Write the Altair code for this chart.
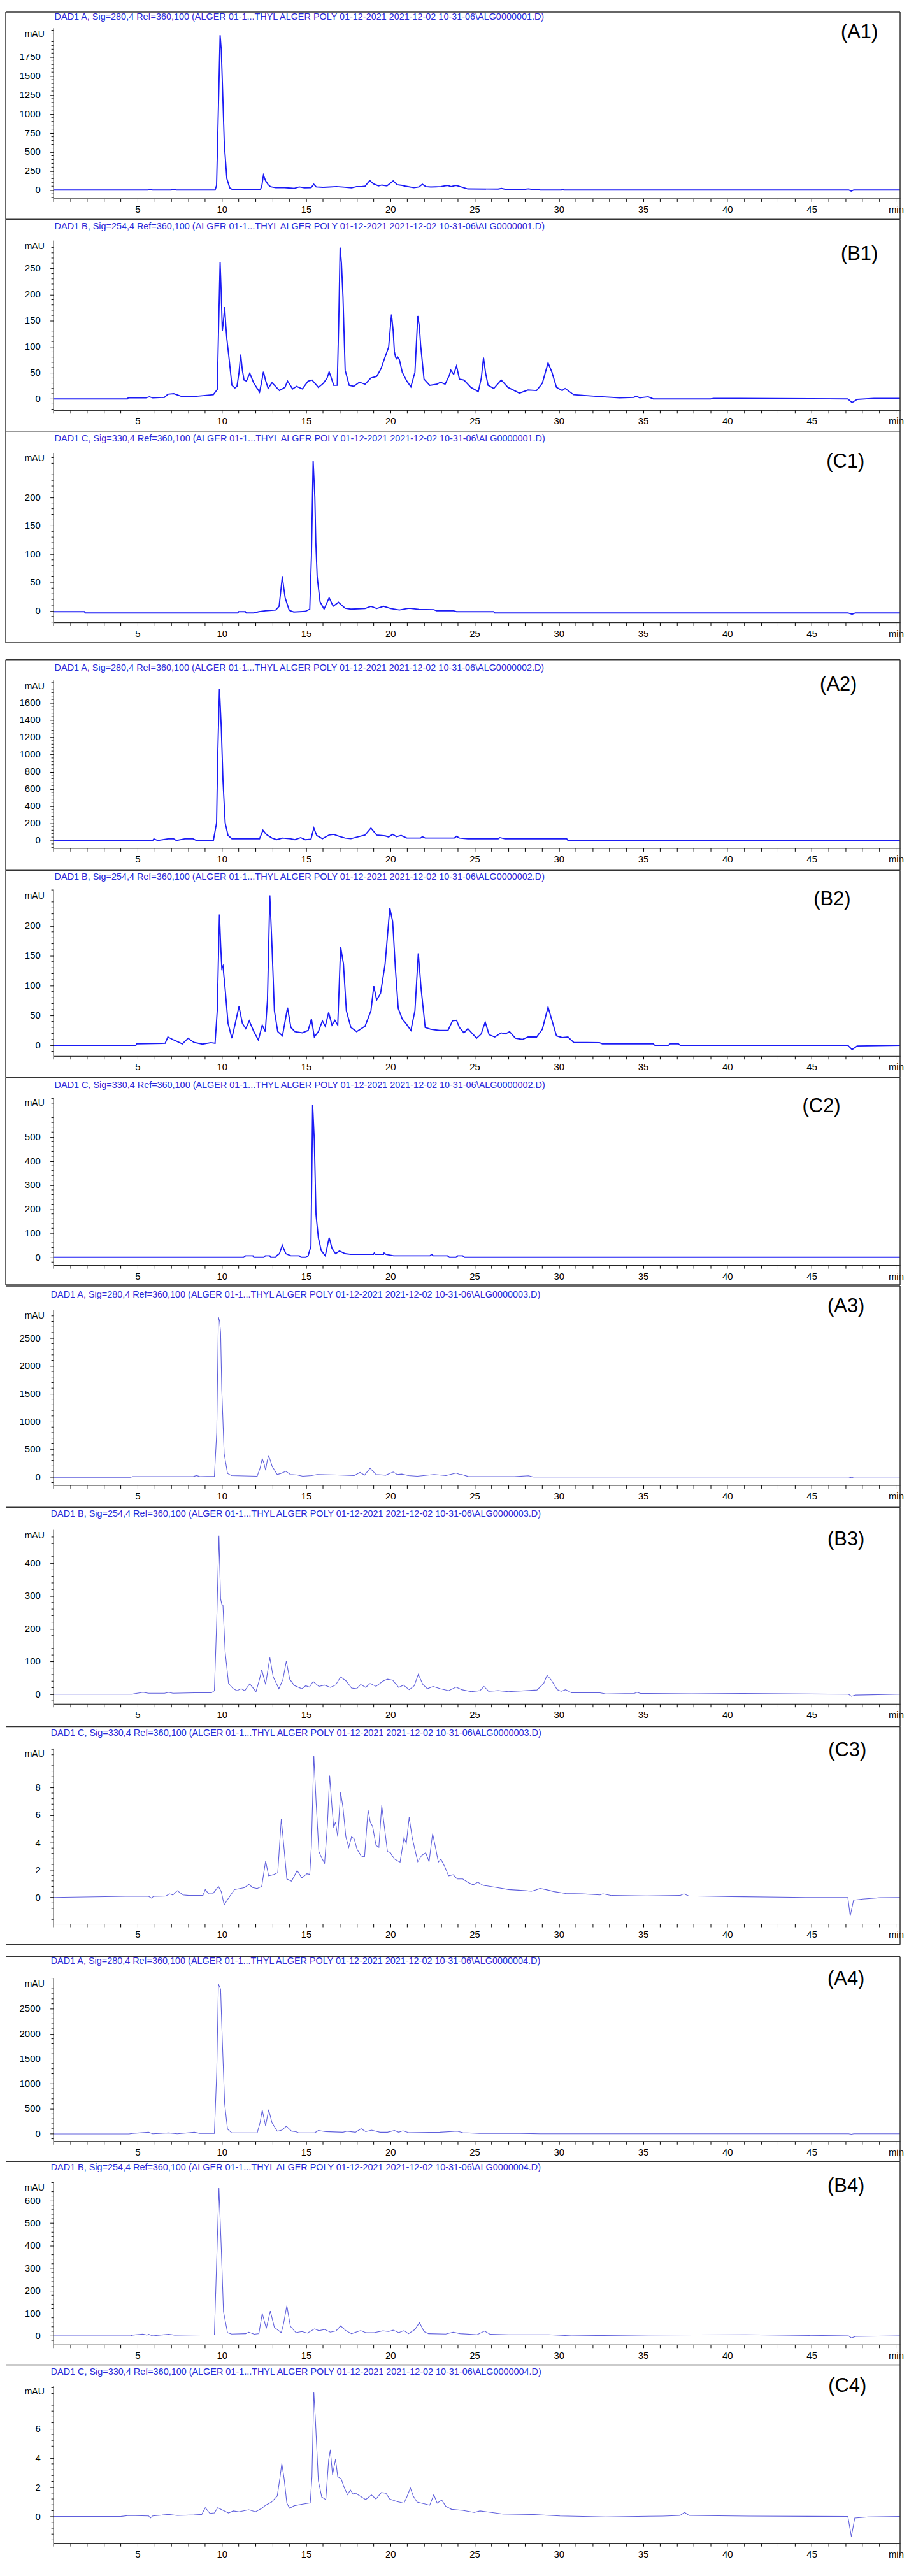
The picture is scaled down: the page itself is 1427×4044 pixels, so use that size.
import math
import altair as alt
import pandas as pd

# ------------------------------------------------------------------ text
TITLES = [
    "DAD1 A, Sig=280,4 Ref=360,100 (ALGER 01-1...THYL  ALGER POLY 01-12-2021 2021-12-02 10-31-06\\ALG0000001.D)",
    "DAD1 B, Sig=254,4 Ref=360,100 (ALGER 01-1...THYL  ALGER POLY 01-12-2021 2021-12-02 10-31-06\\ALG0000001.D)",
    "DAD1 C, Sig=330,4 Ref=360,100 (ALGER 01-1...THYL  ALGER POLY 01-12-2021 2021-12-02 10-31-06\\ALG0000001.D)",
    "DAD1 A, Sig=280,4 Ref=360,100 (ALGER 01-1...THYL  ALGER POLY 01-12-2021 2021-12-02 10-31-06\\ALG0000002.D)",
    "DAD1 B, Sig=254,4 Ref=360,100 (ALGER 01-1...THYL  ALGER POLY 01-12-2021 2021-12-02 10-31-06\\ALG0000002.D)",
    "DAD1 C, Sig=330,4 Ref=360,100 (ALGER 01-1...THYL  ALGER POLY 01-12-2021 2021-12-02 10-31-06\\ALG0000002.D)",
    "DAD1 A, Sig=280,4 Ref=360,100 (ALGER 01-1...THYL  ALGER POLY 01-12-2021 2021-12-02 10-31-06\\ALG0000003.D)",
    "DAD1 B, Sig=254,4 Ref=360,100 (ALGER 01-1...THYL  ALGER POLY 01-12-2021 2021-12-02 10-31-06\\ALG0000003.D)",
    "DAD1 C, Sig=330,4 Ref=360,100 (ALGER 01-1...THYL  ALGER POLY 01-12-2021 2021-12-02 10-31-06\\ALG0000003.D)",
    "DAD1 A, Sig=280,4 Ref=360,100 (ALGER 01-1...THYL  ALGER POLY 01-12-2021 2021-12-02 10-31-06\\ALG0000004.D)",
    "DAD1 B, Sig=254,4 Ref=360,100 (ALGER 01-1...THYL  ALGER POLY 01-12-2021 2021-12-02 10-31-06\\ALG0000004.D)",
    "DAD1 C, Sig=330,4 Ref=360,100 (ALGER 01-1...THYL  ALGER POLY 01-12-2021 2021-12-02 10-31-06\\ALG0000004.D)",
]
LABELS = ["(A1)", "(B1)", "(C1)", "(A2)", "(B2)", "(C2)",
          "(A3)", "(B3)", "(C3)", "(A4)", "(B4)", "(C4)"]
Y_UNIT = "mAU"
X_UNIT = "min"

# ------------------------------------------------------------------ traces (time [min], absorbance [mAU])
A1_PTS = [(0, 0), (5.6, 0), (5.76, 5), (5.9, 0), (7.0, 0), (7.15, 10), (7.3, 0), (9.6, 0), (9.69, 60), (9.78, 900),
          (9.9, 2034), (9.97, 1839), (10.05, 1300), (10.15, 600), (10.3, 150), (10.47, 28), (10.6, 10), (12.3, 10),
          (12.38, 60), (12.47, 195), (12.6, 120), (12.75, 70), (12.9, 42), (13.2, 30), (13.6, 32), (14.1, 25),
          (14.3, 22), (14.6, 40), (14.9, 28), (15.3, 30), (15.46, 75), (15.6, 40), (16.0, 35), (16.4, 40), (16.8, 45),
          (17.2, 38), (17.7, 28), (18.0, 45), (18.3, 45), (18.5, 50), (18.78, 125), (19.0, 80), (19.3, 55), (19.5, 65),
          (19.8, 55), (20.17, 120), (20.4, 70), (20.7, 60), (20.9, 50), (21.4, 30), (21.7, 40), (21.9, 75), (22.1, 45),
          (22.4, 40), (22.7, 42), (23.0, 45), (23.4, 60), (23.6, 45), (23.9, 60), (24.2, 40), (24.6, 14), (26.4, 12),
          (26.6, 20), (26.8, 10), (28.0, 10), (28.2, 15), (28.4, 8), (28.8, 5), (28.9, 0), (30.15, 0), (30.2, 8),
          (30.3, 0), (47.2, 0), (47.35, -14), (47.5, 0), (50.25, 0)]

B1_PTS = [(0, 0), (4.4, 0), (4.45, 2), (5.5, 2), (5.7, 4), (5.9, 2), (6.6, 3), (6.8, 9), (7.15, 10), (7.4, 7),
          (7.66, 4), (8.5, 5), (9.5, 8), (9.73, 18), (9.82, 150), (9.9, 262), (9.97, 200), (10.03, 130), (10.1, 150),
          (10.17, 176), (10.24, 140), (10.3, 115), (10.44, 75), (10.6, 26), (10.78, 21), (10.9, 24), (11.02, 50),
          (11.12, 85), (11.22, 55), (11.32, 36), (11.46, 34), (11.66, 49), (11.9, 30), (12.24, 13), (12.35, 30),
          (12.47, 52), (12.6, 35), (12.75, 20), (12.98, 31), (13.42, 16), (13.75, 22), (13.9, 34), (14.2, 19),
          (14.44, 24), (14.78, 19), (15.12, 34), (15.36, 36), (15.73, 22), (16.03, 30), (16.25, 40), (16.37, 52),
          (16.5, 40), (16.64, 26), (16.85, 26), (16.94, 150), (17.02, 290), (17.1, 260), (17.19, 196), (17.32, 55),
          (17.56, 26), (17.83, 24), (18.17, 32), (18.5, 28), (18.85, 40), (19.19, 43), (19.45, 58), (19.63, 75),
          (19.9, 99), (20.07, 162), (20.17, 130), (20.24, 91), (20.31, 80), (20.37, 77), (20.44, 80), (20.54, 75),
          (20.71, 51), (20.98, 34), (21.22, 23), (21.46, 51), (21.63, 159), (21.72, 140), (21.8, 103), (22.0, 38),
          (22.34, 26), (22.75, 28), (22.98, 32), (23.25, 28), (23.5, 45), (23.59, 55), (23.76, 47), (23.93, 63),
          (24.1, 38), (24.37, 36), (24.78, 22), (25.22, 14), (25.4, 40), (25.53, 79), (25.65, 50), (25.8, 26),
          (26.14, 20), (26.58, 36), (26.98, 22), (27.66, 11), (28.17, 17), (28.68, 16), (29.02, 30), (29.36, 69),
          (29.59, 51), (29.86, 22), (30.2, 16), (30.37, 20), (30.88, 8), (32.58, 4), (33.6, 2), (34.45, 3),
          (34.6, 5), (34.8, 2), (35.3, 4), (35.6, 0), (39.0, 0), (39.2, 1), (40.7, 1), (47.15, 0), (47.4, -7),
          (47.7, -1), (48.7, 1), (50.25, 1)]

C1_PTS = [(0, -1.5), (1.85, -1.5), (1.9, -3.7), (10.95, -3.7), (11.0, -1.5), (11.4, -1.5), (11.45, -3.7),
          (11.9, -3.7), (12.2, -1.5), (12.58, 0), (13.2, 1.5), (13.4, 8), (13.5, 35), (13.59, 60), (13.68, 40),
          (13.76, 23), (14.0, 1), (14.27, -2), (14.95, -1), (15.22, 3), (15.32, 97), (15.42, 265), (15.52, 201),
          (15.58, 120), (15.66, 60), (15.83, 16), (16.07, 3), (16.37, 23), (16.61, 8), (16.92, 15), (17.32, 4.5),
          (17.66, 3), (18.5, 4), (18.85, 8), (19.19, 4), (19.6, 8), (20.03, 4), (20.54, 1.5), (21.1, 4.5),
          (21.7, 2.6), (22.58, 2), (22.75, 0), (23.76, 0), (23.93, -1.5), (26.14, -1.5), (26.2, -3.7),
          (47.15, -3.7), (47.4, -6), (47.6, -3.7), (50.25, -3.7)]

A2_PTS = [(0, 0), (5.9, 0), (5.97, 20), (6.2, 0), (6.8, 20), (7.15, 20), (7.3, 0), (7.8, 20), (8.3, 20), (8.5, 0),
          (9.5, 0), (9.69, 206), (9.76, 993), (9.86, 1767), (9.97, 1312), (10.07, 698), (10.2, 206), (10.37, 59),
          (10.6, 20), (12.24, 20), (12.44, 120), (12.64, 71), (12.98, 29), (13.25, 10), (13.6, 29), (14.1, 20),
          (14.34, 10), (14.68, 34), (14.95, 10), (15.29, 15), (15.46, 145), (15.63, 59), (15.97, 22), (16.37, 64),
          (16.64, 71), (16.98, 47), (17.32, 29), (17.66, 22), (18.17, 47), (18.5, 64), (18.85, 145), (19.19, 64),
          (19.7, 54), (19.9, 42), (20.14, 71), (20.37, 44), (20.64, 59), (20.98, 29), (21.8, 29), (21.9, 44),
          (22.07, 29), (23.8, 29), (23.93, 49), (24.1, 29), (24.6, 20), (26.4, 20), (26.5, 34), (26.8, 20),
          (30.47, 20), (30.54, 0), (50.25, 0)]

B2_PTS = [(0, 0), (4.9, 0), (4.95, 2.5), (6.64, 3.5), (6.8, 14), (7.15, 9), (7.66, 2.5), (8.0, 12), (8.34, 5),
          (8.85, 2), (9.36, 4.6), (9.6, 3.5), (9.73, 58), (9.86, 219), (9.93, 170), (10.0, 129), (10.07, 133),
          (10.2, 94), (10.37, 37), (10.6, 12), (10.8, 37), (11.02, 65), (11.22, 37), (11.42, 28), (11.63, 41),
          (11.9, 23), (12.17, 9), (12.4, 34), (12.58, 23), (12.71, 76), (12.85, 251), (12.98, 165), (13.12, 58),
          (13.32, 23), (13.6, 16), (13.9, 63), (14.1, 30), (14.34, 23), (14.78, 21), (15.12, 25), (15.32, 44),
          (15.49, 14), (15.73, 23), (15.97, 41), (16.14, 32), (16.34, 55), (16.54, 34), (16.71, 42), (16.88, 34),
          (17.05, 165), (17.22, 136), (17.39, 58), (17.66, 30), (18.0, 23), (18.5, 32), (18.85, 58), (19.02, 99),
          (19.19, 76), (19.42, 87), (19.69, 136), (19.97, 230), (20.14, 207), (20.3, 129), (20.47, 62), (20.71, 44),
          (20.92, 37), (21.22, 25), (21.46, 58), (21.66, 154), (21.83, 94), (22.07, 30), (22.4, 27), (22.92, 25),
          (23.42, 25), (23.69, 41), (23.93, 42), (24.1, 30), (24.37, 21), (24.6, 28), (25.12, 12), (25.39, 19),
          (25.63, 39), (25.86, 18), (26.2, 14), (26.58, 21), (26.81, 19), (27.08, 23), (27.42, 12), (27.83, 10),
          (28.17, 14), (28.68, 14), (29.02, 27), (29.36, 64), (29.59, 42), (29.86, 16), (30.2, 13), (30.54, 14),
          (30.88, 5), (32.41, 4.6), (32.58, 2.5), (35.6, 2.5), (35.7, 0), (36.5, 0), (36.6, 2.5), (37.1, 2.5),
          (37.2, 0), (47.15, 0), (47.4, -7), (47.7, -1), (50.25, 0)]

C2_PTS = [(0, 0), (11.3, 0), (11.4, 6), (11.85, 6), (11.9, 0), (12.5, 0), (12.58, 6), (12.85, 6), (12.9, 0),
          (13.2, 0), (13.25, 6), (13.42, 15), (13.59, 50), (13.8, 15), (14.1, 6), (14.6, 6), (14.7, 0), (15.0, 0),
          (15.12, 6), (15.29, 46), (15.39, 634), (15.49, 485), (15.59, 177), (15.73, 81), (15.9, 28), (16.14, 6),
          (16.37, 81), (16.54, 37), (16.75, 15), (16.98, 26), (17.32, 15), (17.66, 12), (19.0, 12), (19.05, 18),
          (19.1, 12), (19.6, 12), (19.63, 18), (19.75, 12), (20.2, 6), (22.35, 6), (22.45, 12), (22.55, 6),
          (23.4, 6), (23.5, 0), (23.9, 0), (24.0, 6), (24.3, 6), (24.4, 0), (50.25, 0)]

A3_PTS = [(0, -4), (4.6, -4), (4.7, 8), (8.3, 8), (8.5, 27), (8.7, 8), (9.56, 15), (9.7, 807), (9.8, 2880),
          (9.87, 2800), (9.93, 2600), (10.0, 1568), (10.14, 426), (10.34, 65), (10.58, 27), (12.1, 15),
          (12.27, 160), (12.4, 331), (12.5, 250), (12.6, 122), (12.7, 300), (12.78, 380), (12.88, 300),
          (12.98, 198), (13.29, 46), (13.5, 65), (13.8, 103), (14.07, 46), (14.47, 38), (14.8, 15), (15.32, 27),
          (15.66, 46), (16.85, 38), (17.86, 27), (18.2, 84), (18.47, 34), (18.8, 160), (19.15, 46), (19.73, 34),
          (20.17, 91), (20.4, 46), (20.68, 53), (21.08, 27), (21.6, 15), (22.6, 46), (23.3, 27), (23.9, 72),
          (24.1, 50), (24.24, 46), (24.64, 8), (27.36, 8), (28.2, 23), (28.5, 0), (47.2, 0), (47.36, -12),
          (47.5, 0), (50.25, 0)]

B3_PTS = [(0, 0), (4.7, 0), (4.75, 1.3), (5.32, 6), (5.66, 3), (6.6, 3), (6.85, 6), (7.1, 3), (8.37, 4.5),
          (9.39, 4.5), (9.56, 11), (9.7, 226), (9.83, 484), (9.93, 291), (10.0, 275), (10.07, 271), (10.2, 130),
          (10.4, 33), (10.68, 17), (10.9, 11), (11.15, 17), (11.36, 11), (11.66, 32), (12.03, 8), (12.24, 46),
          (12.37, 75), (12.6, 30), (12.85, 112), (13.05, 53), (13.39, 17), (13.63, 46), (13.83, 101), (14.03, 46),
          (14.3, 27), (14.75, 17), (14.98, 26), (15.2, 22), (15.42, 39), (15.76, 24), (16.1, 28), (16.44, 21),
          (16.75, 28), (17.05, 53), (17.39, 40), (17.7, 19), (18.0, 17), (18.24, 30), (18.54, 21), (18.8, 33),
          (19.15, 24), (19.56, 40), (19.83, 46), (20.14, 43), (20.5, 21), (20.78, 28), (21.12, 14), (21.42, 26),
          (21.66, 61), (21.93, 30), (22.2, 17), (22.54, 24), (22.95, 17), (23.46, 11), (23.9, 22), (24.24, 14),
          (24.8, 8), (25.32, 11), (25.56, 24), (25.83, 9), (26.4, 11), (27.0, 8), (28.1, 11), (28.7, 13),
          (29.1, 33), (29.3, 58), (29.56, 43), (29.9, 14), (30.14, 9), (30.4, 14), (30.75, 4.5), (32.44, 4.5),
          (32.78, 1), (34.47, 2.5), (34.64, 6), (34.85, 2.5), (37.86, 1.3), (40.9, 2.5), (47.19, 0), (47.36, -6),
          (47.6, -2.5), (50.25, 0)]

C3_PTS = [(0, 0), (4.3, 0.08), (5.66, 0.08), (5.83, -0.05), (5.95, 0.08), (6.68, 0.1), (6.9, 0.26), (7.1, 0.18),
          (7.36, 0.49), (7.7, 0.18), (8.03, 0.14), (8.88, 0.14), (9.02, 0.57), (9.22, 0.26), (9.46, 0.26),
          (9.8, 0.8), (9.97, 0.42), (10.14, -0.54), (10.4, -0.05), (10.75, 0.57), (11.08, 0.65), (11.36, 0.72),
          (11.6, 0.95), (11.83, 0.72), (12.1, 0.65), (12.37, 0.8), (12.6, 2.65), (12.78, 1.57), (13.05, 1.65),
          (13.32, 1.8), (13.53, 5.72), (13.7, 3.5), (13.86, 1.34), (14.14, 1.18), (14.47, 1.95), (14.75, 1.42),
          (15.05, 1.72), (15.22, 1.68), (15.32, 3.8), (15.46, 10.34), (15.6, 6.88), (15.76, 3.34), (15.93, 2.88),
          (16.1, 2.49), (16.27, 5.34), (16.4, 8.88), (16.54, 6.57), (16.64, 5.1), (16.75, 5.49), (16.88, 4.42),
          (17.05, 7.68), (17.19, 6.57), (17.36, 4.42), (17.53, 3.65), (17.7, 4.42), (17.86, 4.26), (18.03, 3.49),
          (18.27, 3.03), (18.47, 2.95), (18.68, 6.38), (18.81, 5.49), (18.95, 5.18), (19.15, 3.8), (19.32, 3.65),
          (19.49, 6.72), (19.66, 5.03), (19.83, 3.34), (20.0, 3.26), (20.24, 2.8), (20.58, 2.57), (20.81, 4.34),
          (20.95, 3.95), (21.12, 5.83), (21.29, 4.42), (21.46, 3.49), (21.63, 2.6), (21.86, 3.06), (22.1, 3.26),
          (22.3, 2.6), (22.51, 4.65), (22.68, 3.65), (22.85, 2.57), (23.0, 2.8), (23.22, 2.26), (23.46, 1.57),
          (23.73, 1.65), (23.97, 1.34), (24.3, 1.34), (24.58, 1.11), (24.92, 0.91), (25.19, 1.11), (25.5, 0.88),
          (26.34, 0.72), (27.02, 0.57), (28.03, 0.49), (28.37, 0.45), (28.64, 0.54), (28.88, 0.65), (29.22, 0.57),
          (29.73, 0.42), (30.4, 0.29), (31.42, 0.26), (32.44, 0.18), (32.61, 0.26), (33.12, 0.14), (35.15, 0.11),
          (37.19, 0.14), (37.42, 0.26), (37.69, 0.11), (40.24, 0.06), (44.64, 0), (47.15, 0), (47.29, -1.35),
          (47.49, -0.2), (48.03, -0.12), (49.05, -0.02), (50.25, 0)]

A4_PTS = [(0, -4), (4.5, -4), (4.7, 8), (5.66, 30), (5.9, 0), (6.85, 17), (7.36, 0), (8.37, 30), (8.7, 8),
          (9.56, 8), (9.7, 1237), (9.8, 2996), (9.93, 2890), (10.03, 1873), (10.17, 602), (10.34, 93), (10.58, 21),
          (12.1, 17), (12.27, 220), (12.4, 475), (12.6, 157), (12.78, 483), (12.98, 220), (13.29, 51), (13.56, 72),
          (13.83, 148), (14.14, 51), (14.4, 42), (14.54, 21), (15.5, 17), (15.73, 64), (16.17, 42), (17.19, 30),
          (17.42, 51), (17.93, 30), (18.27, 102), (18.54, 42), (18.88, 72), (19.39, 30), (19.83, 30), (20.24, 64),
          (20.5, 30), (20.75, 59), (21.08, 21), (22.95, 30), (23.97, 51), (24.3, 21), (25.3, 8), (27.7, 8),
          (28.88, 0), (47.2, 0), (47.36, -10), (47.5, 0), (50.25, 0)]

B4_PTS = [(0, 0), (4.6, 0), (4.7, 3), (5.32, 7.5), (5.55, 3), (5.66, 6.5), (5.9, 0), (6.85, 6.5), (7.2, 3),
          (9.56, 4.7), (9.7, 342), (9.83, 656), (9.97, 389), (10.1, 108), (10.34, 14), (10.58, 7.5), (11.42, 9.4),
          (11.6, 16), (11.93, 7), (12.2, 9.4), (12.4, 100), (12.64, 33), (12.88, 110), (13.12, 37.5), (13.53, 14),
          (13.66, 52), (13.86, 134), (14.07, 42), (14.4, 14), (14.75, 19), (15.08, 12), (15.5, 31), (15.76, 23),
          (16.1, 28), (16.44, 16), (16.78, 22), (17.05, 44), (17.36, 23), (17.7, 9.4), (18.24, 23), (18.54, 14),
          (19.05, 14), (19.56, 22), (19.9, 19), (20.17, 25), (20.5, 14), (20.81, 23), (21.08, 9.4), (21.46, 28),
          (21.73, 59), (22.0, 19), (22.27, 9.4), (23.29, 7.5), (23.73, 16), (24.14, 9.4), (25.15, 4.7),
          (25.59, 21), (25.93, 6.5), (27.02, 4.7), (29.4, 4.7), (30.75, 0), (34.47, 3), (41.08, 4.7), (47.19, 0),
          (47.36, -9.4), (47.6, -3), (50.25, 0)]

C4_PTS = [(0, 0), (4.0, 0), (4.47, 0.07), (5.66, 0.04), (5.76, -0.1), (5.9, 0.04), (6.85, 0.14), (7.36, 0.07),
          (8.37, 0.11), (8.81, 0.14), (9.02, 0.6), (9.29, 0.21), (9.56, 0.24), (9.76, 0.6), (10.0, 0.46),
          (10.4, 0.24), (10.68, 0.38), (11.02, 0.32), (11.6, 0.46), (12.0, 0.32), (12.37, 0.56), (12.6, 0.77),
          (12.95, 0.98), (13.29, 1.4), (13.46, 2.72), (13.56, 3.63), (13.7, 2.58), (13.86, 0.91), (14.03, 0.56),
          (14.3, 0.74), (14.8, 0.84), (15.25, 0.93), (15.35, 2.72), (15.46, 8.51), (15.56, 6.49), (15.73, 2.44),
          (15.93, 1.33), (16.17, 1.16), (16.34, 3.84), (16.44, 4.56), (16.57, 2.86), (16.75, 3.91), (16.88, 2.72),
          (17.08, 2.58), (17.25, 2.02), (17.46, 1.49), (17.63, 1.81), (17.8, 1.53), (17.93, 1.6), (18.2, 1.4),
          (18.54, 1.16), (18.88, 1.47), (19.15, 1.19), (19.46, 1.63), (19.73, 1.6), (19.97, 1.19), (20.41, 1.02),
          (20.81, 0.91), (20.98, 1.33), (21.19, 1.95), (21.36, 1.4), (21.59, 0.98), (22.1, 0.84), (22.34, 0.77),
          (22.58, 1.49), (22.78, 0.91), (23.05, 1.12), (23.29, 0.7), (23.63, 0.49), (24.3, 0.42), (24.98, 0.28),
          (25.32, 0.38), (26.0, 0.28), (26.68, 0.17), (28.37, 0.14), (30.07, 0.04), (32.78, -0.03), (36.17, 0.03),
          (37.19, 0.07), (37.46, 0.28), (37.73, 0.07), (41.25, 0.03), (47.15, 0), (47.36, -1.37), (47.56, -0.1),
          (48.37, -0.03), (50.25, 0)]

PANELS = [A1_PTS, B1_PTS, C1_PTS, A2_PTS, B2_PTS, C2_PTS, A3_PTS, B3_PTS, C3_PTS, A4_PTS, B4_PTS, C4_PTS]

# y axes: domain, labelled step, highest labelled value
Y_DOMAINS = [(-111, 2131), (-21.5, 304), (-20.5, 279), (-88, 1865), (-17.7, 260), (-33, 665),
             (-145, 3014), (-29, 503), (-1.92, 10.88), (-148, 3123), (-39, 684), (-1.81, 8.93)]
Y_STEPS = [250, 50, 50, 200, 50, 100, 500, 100, 2, 500, 100, 2]
Y_TOP_LABEL = [1750, 250, 200, 1600, 200, 500, 2500, 400, 8, 2500, 600, 6]
X_TICKS = list(range(0, 51))
X_MAX = 50.25

# ------------------------------------------------------------------ layout / style
W = 1336
HEIGHTS = [269, 268, 268, 265, 262, 265, 277, 275, 277, 258, 257, 248]
SPACING = [66, 67, 91, 66, 65, 70, 70, 70, 85, 64, 65]
TITLE_Y = [-17, -21, -22, -19, -20, -19, -23, -24, -23, -26, -22, -22]
TITLE_X = [2, 2, 2, 2, 2, 2, -4, -4, -4, -4, -4, -4]
LABEL_X = [1301, 1301, 1280, 1268, 1258, 1242, 1280, 1280, 1283, 1280, 1280, 1283]
LABEL_Y = [7, 22, 15, 7, 15, 15, -5, 16, 4, 2, 7, 1]
TOP_LINE = [-25, -33, -34, -32, -31, -31, -37, -35, -34, -33, -32, -33]
BOTTOM_LINE = {2: 32, 5: 31, 8: 33, 11: 20}
LEFT_BORDER_GROUPS = {0, 1}
FRAME_LEFT = -75
LINE_COLORS = ["#1c1cf5"] * 6 + ["#6060dc"] * 6
LINE_WIDTHS = [1.9] * 6 + [1.1] * 6
TITLE_COLOR = "#2a2ad8"
FONT = "Liberation Sans"
AXIS_FONT = "Liberation Sans Narrow, Liberation Sans, sans-serif"


def one(i, **kw):
    kw["panel"] = i
    return pd.DataFrame([kw])


def panel(i):
    df = pd.DataFrame(PANELS[i], columns=["t", "v"])
    lo, hi = Y_DOMAINS[i]
    step = Y_STEPS[i]
    top_label = Y_TOP_LABEL[i]
    n_major = int(round(top_label / step))
    majors = [int(k * step) for k in range(0, n_major + 1)]
    minor = step / 5
    k0 = math.ceil(lo / minor - 1e-9)
    k1 = math.floor(hi / minor + 1e-9)
    minors = [round(k * minor, 6) for k in range(k0, k1 + 1) if k % 5 != 0]
    yscale = alt.Scale(domain=[lo, hi], nice=False, zero=False)
    y_axis = alt.Axis(
        values=majors, tickCount=len(majors), format="d", title=None, grid=False,
        labels=False, tickSize=5,
    )
    x_axis = alt.Axis(
        values=X_TICKS, tickCount=len(X_TICKS), format="d", title=None, grid=False, tickSize=5,
        labelPadding=5, labelFlush=False, labelOverlap=False,
        labelExpr=f"datum.value == 50 ? '{X_UNIT}' : ((datum.value % 5 == 0 && datum.value > 0) ? datum.label : '')",
    )
    H = HEIGHTS[i]
    line = alt.Chart(df).mark_line(
        color=LINE_COLORS[i], strokeWidth=LINE_WIDTHS[i], clip=True, interpolate="linear"
    ).encode(
        x=alt.X("t:Q", scale=alt.Scale(domain=[0, X_MAX], nice=False, zero=False), axis=x_axis),
        y=alt.Y("v:Q", scale=yscale, axis=y_axis),
    )
    minor_df = pd.DataFrame({"v": minors, "panel": i})
    minor_ticks = alt.Chart(minor_df).mark_rule(color="black", strokeWidth=1).encode(
        y=alt.Y("v:Q", scale=yscale, axis=y_axis), x=alt.value(-3), x2=alt.value(0)
    )
    lab_df = pd.DataFrame({"v": majors, "s": [str(m) for m in majors], "panel": i})
    tick_labels = alt.Chart(lab_df).mark_text(
        align="right", baseline="middle", fontSize=15, font=AXIS_FONT, color="black"
    ).encode(y=alt.Y("v:Q", scale=yscale, axis=y_axis), x=alt.value(-20), text="s:N")
    title = alt.Chart(one(i, s=TITLES[i])).mark_text(
        align="left", baseline="middle", fontSize=14.5, font=FONT, color=TITLE_COLOR
    ).encode(x=alt.value(TITLE_X[i]), y=alt.value(TITLE_Y[i]), text="s:N")
    label = alt.Chart(one(i, s=LABELS[i])).mark_text(
        align="right", baseline="middle", fontSize=31, font=FONT, color="black"
    ).encode(x=alt.value(LABEL_X[i]), y=alt.value(LABEL_Y[i]), text="s:N")
    unit = alt.Chart(one(i, s=Y_UNIT)).mark_text(
        align="right", baseline="middle", fontSize=14, font=AXIS_FONT, color="black"
    ).encode(x=alt.value(-14), y=alt.value(10), text="s:N")

    layers = [line, minor_ticks, tick_labels, title, label, unit]
    frame_color = "#333333"
    top = TOP_LINE[i]
    layers.append(alt.Chart(one(i, a=0)).mark_rule(color=frame_color, strokeWidth=1.5).encode(
        x=alt.value(FRAME_LEFT), x2=alt.value(W), y=alt.value(top)))
    if i in BOTTOM_LINE:
        end = H + BOTTOM_LINE[i]
        if i != 11:
            layers.append(alt.Chart(one(i, a=1)).mark_rule(color=frame_color, strokeWidth=1.5).encode(
                x=alt.value(FRAME_LEFT), x2=alt.value(W), y=alt.value(end)))
    else:
        end = H + SPACING[i] + TOP_LINE[i + 1]
    layers.append(alt.Chart(one(i, a=2)).mark_rule(color=frame_color, strokeWidth=1.5).encode(
        x=alt.value(W), y=alt.value(top), y2=alt.value(end)))
    if i // 3 in LEFT_BORDER_GROUPS:
        layers.append(alt.Chart(one(i, a=3)).mark_rule(color=frame_color, strokeWidth=1.5).encode(
            x=alt.value(FRAME_LEFT), y=alt.value(top), y2=alt.value(end)))
    return alt.layer(*layers).properties(width=W, height=H)


def spacer(i, h):
    return alt.Chart(one(i, a=9)).mark_rule(opacity=0).encode(
        x=alt.value(0), x2=alt.value(1), y=alt.value(0)
    ).properties(width=W, height=h)


items = []
for i in range(12):
    items.append(panel(i))
    if i < 11:
        items.append(spacer(i, SPACING[i]))

chart = alt.vconcat(*items, spacing=0, bounds="flush").resolve_scale(
    x="independent", y="independent"
).properties(
    padding={"left": 0, "top": 0, "right": 0, "bottom": 0}
).configure_view(stroke=None).configure_axis(
    domainColor="black", tickColor="black", labelColor="black", labelFont=AXIS_FONT,
    labelFontSize=15, domainWidth=1, tickWidth=1,
)

chart.save("out.html", embed_options={"renderer": "svg", "actions": False})
